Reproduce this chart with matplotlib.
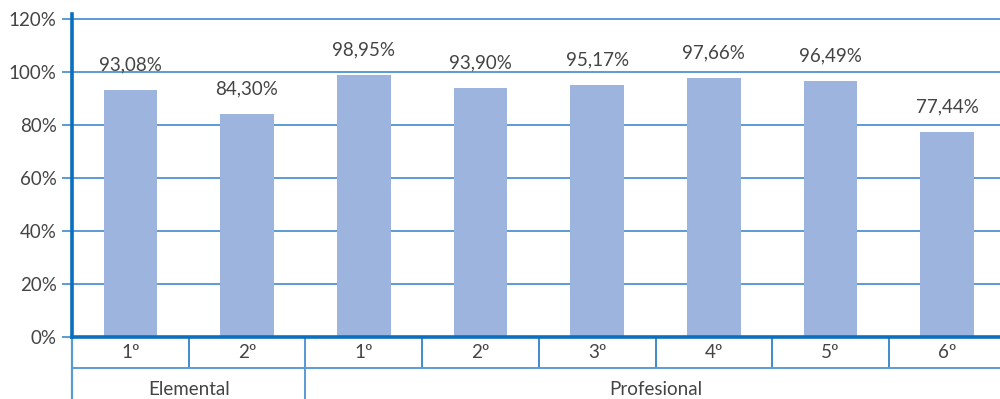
import matplotlib.pyplot as plt
import numpy as np

plt.rcParams['font.family'] = ['Lato', 'DejaVu Sans']

# datos
grados = ["1º", "2º", "1º", "2º", "3º", "4º", "5º", "6º"]
valores = [93.08, 84.30, 98.95, 93.90, 95.17, 97.66, 96.49, 77.44]
etiquetas = ["93,08%", "84,30%", "98,95%", "93,90%", "95,17%", "97,66%", "96,49%", "77,44%"]
grupos = ["Elemental", "Profesional"]
tam_grupos = [2, 6]
yticks = [0, 20, 40, 60, 80, 100, 120]

color_barra = "#9DB5DE"
color_grid = "#5B9BD5"
color_eje = "#1F78C1"
color_texto = "#444444"
fs = 13.5

fig = plt.figure(figsize=(10, 3.99), dpi=100)
ax = fig.add_axes([0.072, 0.1554, 0.9336, 0.797])

x = np.arange(len(valores))
ax.bar(x, valores, width=0.46, color=color_barra, zorder=2)

for xi, v, t in zip(x, valores, etiquetas):
    ax.annotate(t, (xi, v), xytext=(0, 12), textcoords="offset points",
                ha="center", va="bottom", fontsize=fs, color=color_texto)

ax.set_ylim(0, 120)
ax.set_xlim(-0.5, len(valores) - 0.5)
ax.set_yticks(yticks)
ax.set_yticklabels([f"{t}%" for t in yticks], fontsize=fs, color=color_texto)
ax.yaxis.grid(True, color=color_grid, linewidth=1.4, zorder=0)
for l in ax.get_ygridlines():
    l.set_clip_on(False)
ax.set_axisbelow(True)
ax.tick_params(axis="y", length=7, width=1.4, color=color_grid, pad=4)
ax.set_xticks([])

for s in ["top", "right", "bottom"]:
    ax.spines[s].set_visible(False)
ax.spines["left"].set_color("#0A6FBF")
ax.spines["left"].set_linewidth(2.6)
ax.spines["left"].set_bounds(0, 122)

# linea del cero
ax.axhline(0, color="#0A6FBF", linewidth=2.6, zorder=3, clip_on=False)

# eje de categorias en dos niveles
trans = ax.get_xaxis_transform()
fila = 0.0975
for xi, g in zip(x, grados):
    ax.text(xi, -fila / 2, g, transform=trans, ha="center", va="center",
            fontsize=fs, color=color_texto)
for b in np.arange(0.5, len(valores) - 0.5, 1.0):
    ax.plot([b, b], [0, -fila], transform=trans, color=color_eje,
            linewidth=1.2, clip_on=False)
ax.plot([-0.5, len(valores) - 0.5], [-fila, -fila], transform=trans,
        color=color_grid, linewidth=1.4, clip_on=False)

inicio = -0.5
for g, n in zip(grupos, tam_grupos):
    ax.text(inicio + n / 2, -fila * 1.68, g, transform=trans, ha="center",
            va="center", fontsize=fs, color=color_texto)
    ax.plot([inicio, inicio], [0, -0.2], transform=trans, color=color_grid,
            linewidth=1.4, clip_on=False)
    inicio += n
ax.plot([-0.5, -0.5], [0, -0.2], transform=trans, color=color_grid,
        linewidth=1.6, clip_on=False)

fig.savefig("out.png", dpi=100)
